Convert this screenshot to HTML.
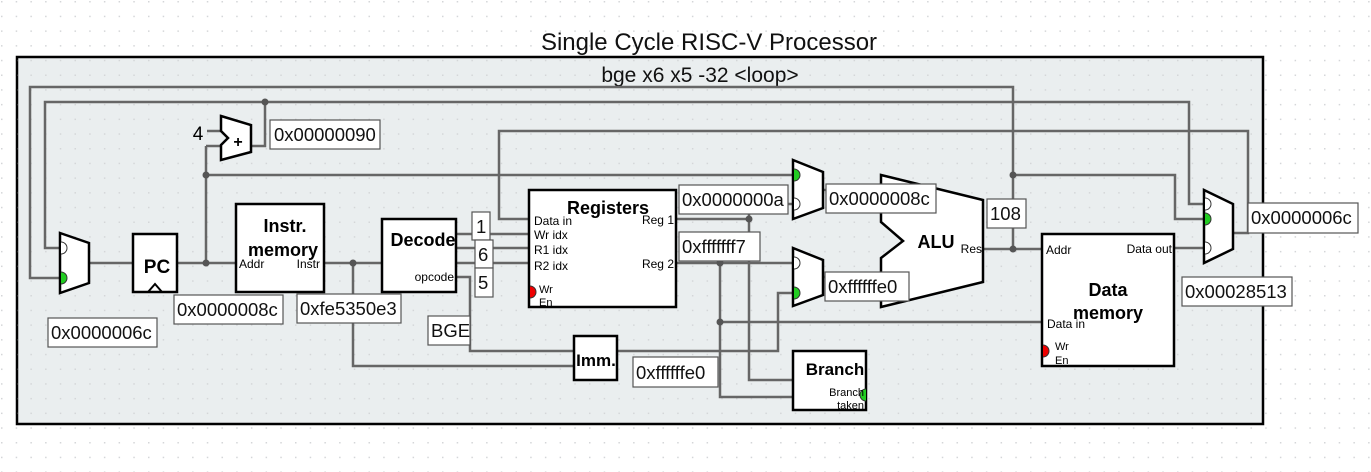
<!DOCTYPE html>
<html><head><meta charset="utf-8"><style>
html,body{margin:0;padding:0;background:#fff;}
svg{display:block;font-family:"Liberation Sans",sans-serif;}
</style></head><body>
<svg width="1371" height="472" viewBox="0 0 1371 472" xmlns="http://www.w3.org/2000/svg">
<defs>
<pattern id="dots" x="1" y="1" width="14.7" height="14.7" patternUnits="userSpaceOnUse">
<rect x="0" y="0" width="1.5" height="1.5" fill="#d4d6d8"/>
</pattern>
</defs>
<rect width="1371" height="472" fill="#fff"/>
<rect width="1371" height="472" fill="url(#dots)"/>
<text x="709" y="50" font-size="24" text-anchor="middle" fill="#111">Single Cycle RISC-V Processor</text>
<rect x="17" y="57" width="1246" height="367" fill="#eaeeef" stroke="#000" stroke-width="2.5"/>
<rect x="17" y="57" width="1246" height="367" fill="url(#dots)"/>
<text x="700" y="82" font-size="21" text-anchor="middle" fill="#111">bge x6 x5 -32 &lt;loop&gt;</text>

<g fill="none" stroke="#666" stroke-width="2.5">
<polyline points="60,278 30,278 30,87 1013,87 1013,249"/>
<polyline points="60,248 45,248 45,102 1189,102 1189,204 1204,204"/>
<polyline points="251,146 265,146 265,102"/>
<polyline points="1233,233 1248,233 1248,131 499,131 499,219 529,219"/>
<polyline points="206,146 221,146"/>
<polyline points="206,146 206,263"/>
<polyline points="206,175 793,175"/>
<polyline points="1013,175 1175,175 1175,219 1204,219"/>
<polyline points="207,131 221,131"/>
<polyline points="89,263 134,263"/>
<polyline points="177,263 236,263"/>
<polyline points="324,263 383,263"/>
<polyline points="353,263 353,366 574,366"/>
<polyline points="456,234 529,234"/>
<polyline points="456,248 529,248"/>
<polyline points="456,263 529,263"/>
<polyline points="456,277 470,277 470,351 574,351"/>
<polyline points="677,219 749,219"/>
<polyline points="749,204 793,204"/>
<polyline points="749,204 749,380 793,380"/>
<polyline points="677,263 793,263"/>
<polyline points="720,263 720,397 793,397"/>
<polyline points="720,322 1043,322"/>
<polyline points="617,351 778,351 778,293 793,293"/>
<polyline points="823,190 881,190"/>
<polyline points="823,277 881,277"/>
<polyline points="983,249 1043,249"/>
<polyline points="1174,248 1204,248"/>
</g>
<g fill="#555">
<circle cx="265" cy="102" r="3.5"/><circle cx="206" cy="175" r="3.5"/><circle cx="206" cy="263" r="3.5"/>
<circle cx="353" cy="263" r="3.5"/><circle cx="749" cy="219" r="3.5"/><circle cx="720" cy="263" r="3.5"/>
<circle cx="720" cy="322" r="3.5"/><circle cx="1013" cy="175" r="3.5"/><circle cx="1013" cy="249" r="3.5"/>
</g>

<g stroke="#000" stroke-width="2.5" fill="#fff">
<polygon points="60,233 89,243 89,283 60,293"/>
<polygon points="221,116 251,125 251,152 221,160 221,145 228,138 221,131"/>
<rect x="133" y="234" width="44" height="58"/>
<rect x="236" y="204" width="88" height="88"/>
<rect x="382" y="219" width="74" height="73"/>
<rect x="529" y="190" width="147" height="117"/>
<polygon points="793,160 823,172 823,208 793,219"/>
<polygon points="793,248 823,260 823,295 793,306"/>
<polygon points="881,175 983,200 983,282 881,307 881,258 903,241 881,222"/>
<rect x="574" y="336" width="43" height="44"/>
<rect x="793" y="351" width="73" height="59"/>
<rect x="1042" y="234" width="132" height="132"/>
<polygon points="1204,190 1233,204 1233,249 1204,263"/>
</g>
<polyline points="148,292 155,284 162,292" fill="none" stroke="#000" stroke-width="2"/>

<g stroke="#333" stroke-width="1">
<path d="M61,242 a6,6 0 0 1 0,12" fill="#fff"/>
<path d="M61,272 a6,6 0 0 1 0,12" fill="#2c2"/>
<path d="M794,169 a6,6 0 0 1 0,12" fill="#2c2"/>
<path d="M794,198 a6,6 0 0 1 0,12" fill="#fff"/>
<path d="M794,257 a6,6 0 0 1 0,12" fill="#fff"/>
<path d="M794,287 a6,6 0 0 1 0,12" fill="#2c2"/>
<path d="M1205,198 a6,6 0 0 1 0,12" fill="#fff"/>
<path d="M1205,213 a6,6 0 0 1 0,12" fill="#2c2"/>
<path d="M1205,242 a6,6 0 0 1 0,12" fill="#fff"/>
<path d="M530,286 a6,6 0 0 1 0,12" fill="#e00"/>
<path d="M1043,345 a6,6 0 0 1 0,12" fill="#e00"/>
<path d="M866,389 a6,6 0 0 0 0,12" fill="#2c2"/>
</g>

<g fill="#000">
<text x="238" y="147" font-size="16" font-weight="bold" text-anchor="middle">+</text>
<text x="198" y="140" font-size="19" text-anchor="middle">4</text>
<text x="157" y="273" font-size="19" font-weight="bold" text-anchor="middle">PC</text>
<text x="285" y="232" font-size="18" font-weight="bold" text-anchor="middle">Instr.</text>
<text x="283" y="256" font-size="18" font-weight="bold" text-anchor="middle">memory</text>
<text x="239" y="268" font-size="12">Addr</text>
<text x="320" y="268" font-size="12" text-anchor="end">Instr</text>
<text x="423" y="246" font-size="18" font-weight="bold" text-anchor="middle">Decode</text>
<text x="454" y="281" font-size="12" text-anchor="end">opcode</text>
<text x="608" y="214" font-size="18" font-weight="bold" text-anchor="middle">Registers</text>
<text x="534" y="225" font-size="12">Data in</text>
<text x="534" y="239" font-size="12">Wr idx</text>
<text x="534" y="254" font-size="12">R1 idx</text>
<text x="534" y="270" font-size="12">R2 idx</text>
<text x="674" y="224" font-size="12" text-anchor="end">Reg 1</text>
<text x="674" y="268" font-size="12" text-anchor="end">Reg 2</text>
<text x="539" y="293" font-size="11">Wr</text>
<text x="539" y="306" font-size="11">En</text>
<text x="936" y="248" font-size="18" font-weight="bold" text-anchor="middle">ALU</text>
<text x="982" y="253" font-size="12" text-anchor="end">Res</text>
<text x="596" y="366" font-size="17" font-weight="bold" text-anchor="middle">Imm.</text>
<text x="835" y="375" font-size="17" font-weight="bold" text-anchor="middle">Branch</text>
<text x="864" y="396" font-size="11" text-anchor="end">Branch</text>
<text x="864" y="409" font-size="11" text-anchor="end">taken</text>
<text x="1108" y="296" font-size="18" font-weight="bold" text-anchor="middle">Data</text>
<text x="1108" y="319" font-size="18" font-weight="bold" text-anchor="middle">memory</text>
<text x="1046" y="254" font-size="12">Addr</text>
<text x="1172" y="253" font-size="12" text-anchor="end">Data out</text>
<text x="1047" y="328" font-size="12">Data in</text>
<text x="1055" y="350" font-size="11">Wr</text>
<text x="1055" y="364" font-size="11">En</text>
</g>

<g fill="#fff" stroke="#555" stroke-width="1.2">
<rect x="270" y="120" width="110" height="29"/>
<rect x="174" y="295" width="109" height="29"/>
<rect x="297" y="294" width="104" height="29"/>
<rect x="48" y="318" width="109" height="29"/>
<rect x="428" y="316" width="42" height="29"/>
<rect x="472" y="212" width="18" height="28"/>
<rect x="475" y="240" width="18" height="28"/>
<rect x="475" y="268" width="18" height="29"/>
<rect x="679" y="185" width="109" height="29"/>
<rect x="679" y="232" width="81" height="29"/>
<rect x="633" y="357" width="85" height="30"/>
<rect x="826" y="184" width="110" height="29"/>
<rect x="825" y="272" width="84" height="29"/>
<rect x="987" y="199" width="39" height="29"/>
<rect x="1248" y="203" width="110" height="30"/>
<rect x="1182" y="277" width="110" height="29"/>
</g>
<g fill="#111" font-size="18.5">
<text x="274" y="141">0x00000090</text>
<text x="177" y="316">0x0000008c</text>
<text x="300" y="315">0xfe5350e3</text>
<text x="51" y="339">0x0000006c</text>
<text x="431" y="337">BGE</text>
<text x="476" y="233">1</text>
<text x="478" y="261">6</text>
<text x="478" y="289">5</text>
<text x="682" y="206">0x0000000a</text>
<text x="682" y="253">0xfffffff7</text>
<text x="636" y="379">0xffffffe0</text>
<text x="829" y="205">0x0000008c</text>
<text x="828" y="293">0xffffffe0</text>
<text x="990" y="220">108</text>
<text x="1251" y="224">0x0000006c</text>
<text x="1185" y="298">0x00028513</text>
</g>
</svg>
</body></html>
